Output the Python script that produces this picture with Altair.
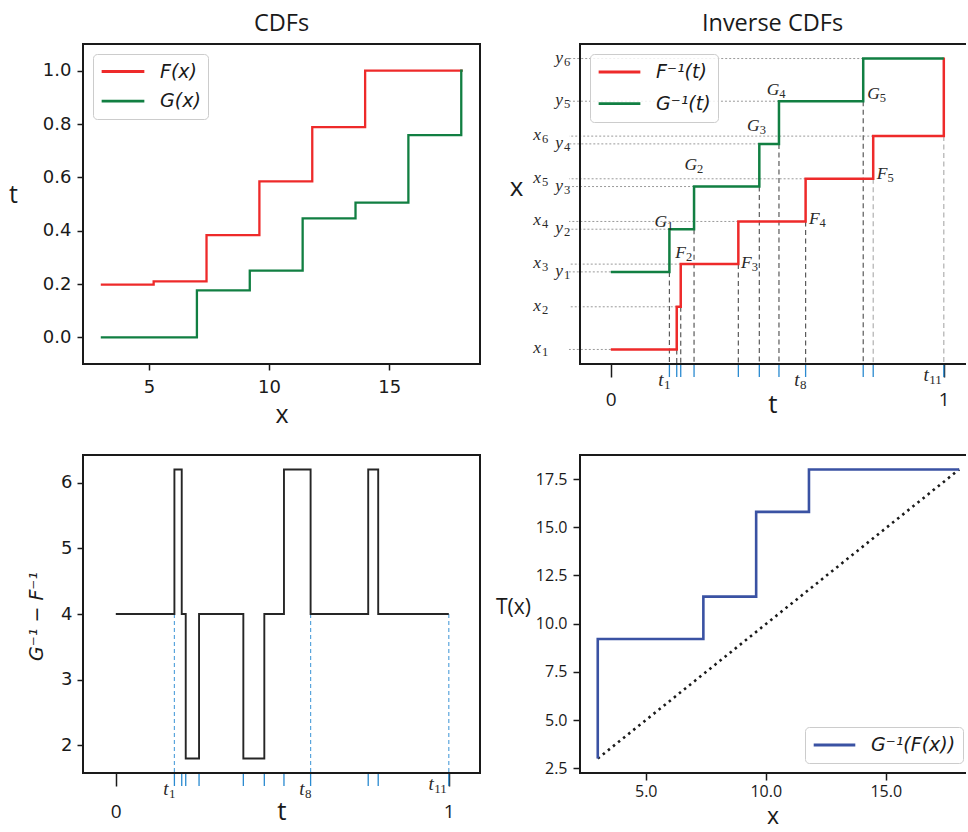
import altair as alt
import pandas as pd

# ---------------- values ----------------
x_pts = [3.0, 5.2, 7.4, 9.6, 11.8, 14.0]            # x1..x6 : jump points of F
F_vals = [0.198, 0.210, 0.383, 0.585, 0.788, 1.0]    # F(x1)..F(x6)
y_pts = [7.0, 9.2, 11.4, 13.6, 15.8, 18.0]           # y1..y6 : jump points of G
G_vals = [0.176, 0.250, 0.446, 0.505, 0.758, 1.0]    # G(y1)..G(y6)
x_first = 3.0        # first grid point
x_last = 18.06       # last grid point
T_first = 3.0        # G^-1(F(x)) at the first grid point

x_names = ["x₁", "x₂", "x₃", "x₄", "x₅", "x₆"]
y_names = ["y₁", "y₂", "y₃", "y₄", "y₅", "y₆"]

F_tags = ["F₂", "F₃", "F₄", "F₅"]
F_tag_t = [0.220, 0.417, 0.621, 0.825]
F_tag_v = [7.98, 7.45, 9.72, 12.04]
G_tags = ["G₁", "G₂", "G₃", "G₄", "G₅"]
G_tag_t = [0.163, 0.253, 0.441, 0.500, 0.802]
G_tag_v = [9.58, 12.49, 14.52, 16.39, 16.17]

t_tag_names = ["t₁", "t₈", "t₁₁"]
t_tag_index = [0, 7, 10]

# ---------------- derived tables ----------------
SUBS = str.maketrans("₀₁₂₃₄₅₆₇₈₉", "0123456789")


def split(lbl):
    return lbl[0], lbl[1:].translate(SUBS)


t_all = sorted(F_vals[:5] + G_vals[:5] + [1.0])


def inv_step(vals, pts, t):
    n = sum(1 for v in vals[:5] if v <= t)
    return pts[n]


def g_inv(p):
    for gv, yv in zip(G_vals, y_pts):
        if gv >= p:
            return yv
    return y_pts[-1]


cdf_rows = [{"x": xv, "p": pv, "s": "F(x)"} for xv, pv in zip(x_pts, F_vals)]
cdf_rows.append({"x": x_last, "p": F_vals[-1], "s": "F(x)"})
cdf_rows.append({"x": x_first, "p": 0.0, "s": "G(x)"})
cdf_rows += [{"x": yv, "p": gv, "s": "G(x)"} for yv, gv in zip(y_pts, G_vals)]
cdf_rows.append({"x": x_last, "p": G_vals[-1], "s": "G(x)"})
cdf_df = pd.DataFrame(cdf_rows)

inv_rows = [{"t": 0.0, "v": x_pts[0], "s": "F⁻¹(t)", "o": 0}]
for k in range(5):
    inv_rows.append({"t": F_vals[k], "v": x_pts[k + 1], "s": "F⁻¹(t)", "o": k + 1})
inv_rows.append({"t": 1.0, "v": x_last, "s": "F⁻¹(t)", "o": 6})
inv_rows.append({"t": 0.0, "v": y_pts[0], "s": "G⁻¹(t)", "o": 0})
for k in range(5):
    inv_rows.append({"t": G_vals[k], "v": y_pts[k + 1], "s": "G⁻¹(t)", "o": k + 1})
inv_rows.append({"t": 1.0, "v": y_pts[-1], "s": "G⁻¹(t)", "o": 6})
inv_df = pd.DataFrame(inv_rows)

lvl_rows = []
for k in range(6):
    a, b = split(x_names[k])
    lvl_rows.append({"v": x_pts[k], "te": 0.0 if k == 0 else F_vals[k - 1], "let": a, "sub": b, "grp": "x"})
    a, b = split(y_names[k])
    lvl_rows.append({"v": y_pts[k], "te": 0.0 if k == 0 else G_vals[k - 1], "let": a, "sub": b, "grp": "y"})
lvl_df = pd.DataFrame(lvl_rows)

drop_rows = [{"t": F_vals[k], "v": x_pts[k]} for k in range(6)]
drop_rows += [{"t": G_vals[k], "v": y_pts[k]} for k in range(5)]
drop_df = pd.DataFrame(drop_rows)
light_cut = (t_all[8] + t_all[9]) / 2

tag_rows = []
for lab, t, v in zip(F_tags + G_tags, F_tag_t + G_tag_t, F_tag_v + G_tag_v):
    a, b = split(lab)
    tag_rows.append({"let": a, "sub": b, "t": t, "v": v})
tag_df = pd.DataFrame(tag_rows)

tick_df = pd.DataFrame({"t": t_all})
ttag_rows = []
for lab, i in zip(t_tag_names, t_tag_index):
    a, b = split(lab)
    ttag_rows.append({"let": a, "sub": b, "t": t_all[i]})
ttag_df = pd.DataFrame(ttag_rows)

breaks = sorted([0.0] + F_vals[:5] + G_vals[:5])
diff_rows = [{"t": b, "d": round(inv_step(G_vals, y_pts, b) - inv_step(F_vals, x_pts, b), 3)} for b in breaks]
diff_rows.append({"t": 1.0, "d": diff_rows[-1]["d"]})
diff_df = pd.DataFrame(diff_rows)

cut_rows = []
for i in t_tag_index:
    t = t_all[i]
    before = inv_step(G_vals, y_pts, t - 1e-9) - inv_step(F_vals, x_pts, t - 1e-9)
    after = inv_step(G_vals, y_pts, t) - inv_step(F_vals, x_pts, t)
    cut_rows.append({"t": t, "d": round(min(before, after), 3)})
cut_df = pd.DataFrame(cut_rows)

T_rows = [{"x": x_first, "T": T_first, "i": 0}]
for k, (xv, fv) in enumerate(zip(x_pts, F_vals)):
    T_rows.append({"x": xv, "T": g_inv(fv), "i": k + 1})
T_rows.append({"x": x_last, "T": g_inv(F_vals[-1]), "i": 7})
T_df = pd.DataFrame(T_rows)
diag_df = pd.DataFrame({"x": [x_first, x_last], "T": [T_first, y_pts[-1]]})

one = pd.DataFrame({"k": [0]})

# ---------------- style ----------------
RED = "#ee2a2a"
GREEN = "#117f42"
NAVY = "#3a52a3"
TICKBLUE = "#2a8ad0"
LIGHTBLUE = "#5aa5dc"
INK = "#1a1a1a"
SANS = "Open Sans"
MATH = "DejaVu Sans"
SERIF = "Liberation Serif"

WL, WR = 397, 385
H1, H2 = 320, 318


def border(W, H, right):
    base = alt.Chart(one).mark_rule(color=INK, strokeWidth=2, strokeCap="square")
    parts = [
        base.encode(x=alt.value(0), x2=alt.value(W), y=alt.value(0)),
        base.encode(x=alt.value(0), x2=alt.value(W), y=alt.value(H)),
        base.encode(x=alt.value(0), y=alt.value(0), y2=alt.value(H)),
    ]
    if right:
        parts.append(base.encode(x=alt.value(W), y=alt.value(0), y2=alt.value(H)))
    return parts


def legend(**kw):
    base = dict(title=None, symbolType="stroke", symbolStrokeWidth=2.8, symbolOpacity=1,
                labelFont=MATH, labelFontStyle="italic", labelFontSize=19, labelColor=INK,
                labelOffset=14, padding=7, cornerRadius=4, strokeColor="#cccccc",
                fillColor="rgba(255,255,255,0.85)")
    base.update(kw)
    return alt.Legend(**base)


def title(text):
    return alt.TitleParams(text=text, font=SANS, fontSize=23.5, fontWeight="normal", color=INK,
                           anchor="middle", frame="group", offset=7)


def math_label(df, xenc, yenc, let_size, sub_size, let_dx, sub_dx, let_dy, sub_dy, align_let, align_sub,
               filt=None):
    base = alt.Chart(df)
    if filt:
        base = base.transform_filter(filt)
    let = base.mark_text(font=SERIF, fontStyle="italic", fontSize=let_size, color="#2a2a2a",
                         align=align_let, baseline="alphabetic", dx=let_dx, dy=let_dy).encode(
        x=xenc, y=yenc, text="let:N")
    sub = base.mark_text(font=SERIF, fontSize=sub_size, color="#2a2a2a",
                         align=align_sub, baseline="alphabetic", dx=sub_dx, dy=sub_dy).encode(
        x=xenc, y=yenc, text="sub:N")
    return [let, sub]


# ---------------- panel A : CDFs ----------------
SA_X = alt.Scale(domain=[2.26, 18.78], nice=False, zero=False)
SA_Y = alt.Scale(domain=[-0.1, 1.1], nice=False, zero=False)
AX_AX = alt.Axis(values=[5, 10, 15], format="d", grid=False, domain=False, tickSize=6, tickWidth=1.5,
                 tickColor=INK, labelFont=MATH, labelFontSize=18, labelColor=INK, labelPadding=8,
                 title="x", titleFont=SANS, titleFontSize=25, titleFontWeight="normal", titleColor=INK,
                 titleY=50, titleBaseline="middle")
AX_AY = alt.Axis(values=[0.0, 0.2, 0.4, 0.6, 0.8, 1.0], format=".1f", grid=False, domain=False, tickSize=6,
                 tickWidth=1.5, tickColor=INK, labelFont=MATH, labelFontSize=18, labelColor=INK,
                 labelPadding=6, title="t", titleFont=SANS, titleFontSize=25, titleFontWeight="normal",
                 titleColor=INK, titleAngle=0, titleX=-70, titleY=150, titleAlign="center",
                 titleBaseline="middle")

A_lines = alt.Chart(cdf_df).mark_line(interpolate="step-after", strokeWidth=2.3).encode(
    x=alt.X("x:Q", scale=SA_X, axis=AX_AX),
    y=alt.Y("p:Q", scale=SA_Y, axis=AX_AY),
    color=alt.Color("s:N", scale=alt.Scale(domain=["F(x)", "G(x)"], range=[RED, GREEN]),
                    legend=legend(orient="top-left", offset=10, symbolSize=1823, clipHeight=21,
                                  rowPadding=8.7)),
)
A = alt.layer(A_lines, *border(WL, H1, True)).properties(width=WL, height=H1, title=title("CDFs"))

# ---------------- panel B : inverse CDFs ----------------
SB_X = alt.Scale(domain=[-0.0925, -0.0925 + WR / 333.0], nice=False, zero=False)
SB_Y = alt.Scale(domain=[2.25, 18.75], nice=False, zero=False)
AX_BX = alt.Axis(values=[0, 1], format="d", grid=False, domain=False, tickSize=13, tickWidth=1.5,
                 tickColor=INK, labelFont=SANS, labelFontSize=19, labelColor=INK, labelPadding=13,
                 title="t", titleFont=SANS, titleFontSize=26, titleFontWeight="normal", titleColor=INK,
                 titleY=40, titleBaseline="middle")
AX_BY = alt.Axis(labels=False, ticks=False, grid=False, domain=False, title="x", titleFont=SANS,
                 titleFontSize=26, titleFontWeight="normal", titleColor=INK, titleAngle=0, titleX=-64,
                 titleY=143, titleAlign="center", titleBaseline="middle")


def bx(f):
    return alt.X(f, type="quantitative", scale=SB_X, axis=AX_BX)


def by(f):
    return alt.Y(f, type="quantitative", scale=SB_Y, axis=AX_BY)


B_dots = alt.Chart(lvl_df).mark_rule(color="#9a9a9a", strokeWidth=1, strokeDash=[2, 2]).encode(
    x=bx("te"), x2=alt.value(-11), y=by("v"))
B_drops = alt.Chart(drop_df).mark_rule(strokeWidth=1.2, strokeDash=[5, 3.5]).encode(
    x=bx("t"), y=by("v"), y2=alt.value(H1),
    color=alt.condition(f"datum.t > {light_cut}", alt.value("#b0b0b0"), alt.value("#5a5a5a")))
B_ticks = alt.Chart(tick_df).mark_rule(color=TICKBLUE, strokeWidth=1.3).encode(
    x=bx("t"), y=alt.value(H1), y2=alt.value(H1 + 13))
B_lines = alt.Chart(inv_df).mark_line(interpolate="step-after", strokeWidth=2.5).encode(
    x=bx("t"), y=by("v"), order=alt.Order("o:Q"),
    color=alt.Color("s:N", scale=alt.Scale(domain=["F⁻¹(t)", "G⁻¹(t)"], range=[RED, GREEN]),
                    legend=legend(orient="top-left", offset=10, symbolSize=1740, clipHeight=22,
                                  rowPadding=9.7)))
B_tags = math_label(tag_df, bx("t"), by("v"), 17.5, 12.5, 2, 2, 5, 8, "right", "left")
B_xnames = math_label(lvl_df, alt.value(-39), by("v"), 17.5, 12.5, 0, 1, 4, 7, "right", "left",
                      "datum.grp == 'x'")
B_ynames = math_label(lvl_df, alt.value(-17), by("v"), 17.5, 12.5, 0, 1, 4, 7, "right", "left",
                      "datum.grp == 'y'")
B_ttag1 = math_label(ttag_df, bx("t"), alt.value(H1 + 22), 19, 13, -6, 1, 0, 3, "right", "right",
                     "datum.t < 1")
B_ttag2 = math_label(ttag_df, bx("t"), alt.value(H1 + 17), 19, 13, -15, -2, 0, 3, "right", "right",
                     "datum.t >= 1")

B = alt.layer(B_dots, B_drops, B_ticks, B_lines, *B_tags, *B_xnames, *B_ynames, *B_ttag1, *B_ttag2,
              *border(WR, H1, False)).properties(width=WR, height=H1, title=title("Inverse CDFs"))

# ---------------- panel C : G^-1 - F^-1 ----------------
SC_X = alt.Scale(domain=[-0.0985, -0.0985 + WL / 333.0], nice=False, zero=False)
SC_Y = alt.Scale(domain=[1.58, 6.42], nice=False, zero=False)
AX_CX = alt.Axis(values=[0, 1], format="d", grid=False, domain=False, tickSize=13, tickWidth=1.5,
                 tickColor=INK, labelFont=SANS, labelFontSize=19, labelColor=INK, labelPadding=16,
                 title="t", titleFont=SANS, titleFontSize=26, titleFontWeight="normal", titleColor=INK,
                 titleY=38, titleBaseline="middle")
AX_CY = alt.Axis(values=[2, 3, 4, 5, 6], format="d", grid=False, domain=False, tickSize=6, tickWidth=1.5,
                 tickColor=INK, labelFont=MATH, labelFontSize=18, labelColor=INK, labelPadding=5,
                 title="G⁻¹ − F⁻¹", titleFont=MATH, titleFontStyle="italic", titleFontSize=19,
                 titleFontWeight="normal", titleColor=INK, titleAngle=270, titleX=-47, titleY=161,
                 titleAlign="center", titleBaseline="middle")


def cx(f):
    return alt.X(f, type="quantitative", scale=SC_X, axis=AX_CX)


def cy(f):
    return alt.Y(f, type="quantitative", scale=SC_Y, axis=AX_CY)


C_ticks = alt.Chart(tick_df).mark_rule(color=TICKBLUE, strokeWidth=1.3).encode(
    x=cx("t"), y=alt.value(H2), y2=alt.value(H2 + 13))
C_cuts = alt.Chart(cut_df).mark_rule(color=LIGHTBLUE, strokeWidth=1.2, strokeDash=[4, 3]).encode(
    x=cx("t"), y=cy("d"), y2=alt.value(H2))
C_line = alt.Chart(diff_df).mark_line(interpolate="step-after", strokeWidth=1.9, color="#262626").encode(
    x=cx("t"), y=cy("d"))
C_ttag1 = math_label(ttag_df, cx("t"), alt.value(H2 + 22), 19, 13, -6, 1, 0, 3, "right", "right",
                     "datum.t < 1")
C_ttag2 = math_label(ttag_df, cx("t"), alt.value(H2 + 17), 19, 13, -15, -2, 0, 3, "right", "right",
                     "datum.t >= 1")
C = alt.layer(C_ticks, C_cuts, C_line, *C_ttag1, *C_ttag2, *border(WL, H2, True)).properties(
    width=WL, height=H2)

# ---------------- panel D : T(x) ----------------
SD_X = alt.Scale(domain=[2.26, 2.26 + WR / 24.0], nice=False, zero=False)
SD_Y = alt.Scale(domain=[2.25, 18.75], nice=False, zero=False)
AX_DX = alt.Axis(values=[5, 10, 15], format=".1f", grid=False, domain=False, tickSize=7, tickWidth=1.5,
                 tickColor=INK, labelFont=SANS, labelFontSize=16, labelColor=INK, labelPadding=3,
                 title="x", titleFont=SANS, titleFontSize=23, titleFontWeight="normal", titleColor=INK,
                 titleY=43, titleBaseline="middle")
AX_DY = alt.Axis(values=[2.5, 5.0, 7.5, 10.0, 12.5, 15.0, 17.5], format=".1f", grid=False, domain=False,
                 tickSize=7, tickWidth=1.5, tickColor=INK, labelFont=SANS, labelFontSize=16,
                 labelColor=INK, labelPadding=6, title="T(x)", titleFont=SANS, titleFontSize=21,
                 titleFontWeight="normal", titleColor=INK, titleAngle=0, titleX=-67, titleY=152,
                 titleAlign="center", titleBaseline="middle")


def dx_(f):
    return alt.X(f, type="quantitative", scale=SD_X, axis=AX_DX)


def dy_(f):
    return alt.Y(f, type="quantitative", scale=SD_Y, axis=AX_DY)


D_diag = alt.Chart(diag_df).mark_line(color=INK, strokeWidth=2.6, strokeDash=[2.5, 4]).encode(
    x=dx_("x"), y=dy_("T"))
D_line = alt.Chart(T_df).transform_calculate(s="'G⁻¹(F(x))'").mark_line(
    interpolate="step-after", strokeWidth=2.6).encode(
    x=dx_("x"), y=dy_("T"), order=alt.Order("i:Q"),
    color=alt.Color("s:N", scale=alt.Scale(domain=["G⁻¹(F(x))"], range=[NAVY]),
                    legend=legend(orient="none", legendX=225, legendY=272, symbolSize=1730,
                                  clipHeight=22)))
D = alt.layer(D_diag, D_line, *border(WR, H2, False)).properties(width=WR, height=H2)

chart = alt.concat(
    A, B, C, D, columns=2, spacing={"row": 91, "column": 100}, bounds="flush", align="all"
).resolve_scale(color="independent").properties(
    padding={"left": 8, "top": 12, "right": 0, "bottom": 0}, background="white"
).configure_view(strokeWidth=0)

chart.save("out.html", embed_options={"renderer": "svg", "actions": False})
